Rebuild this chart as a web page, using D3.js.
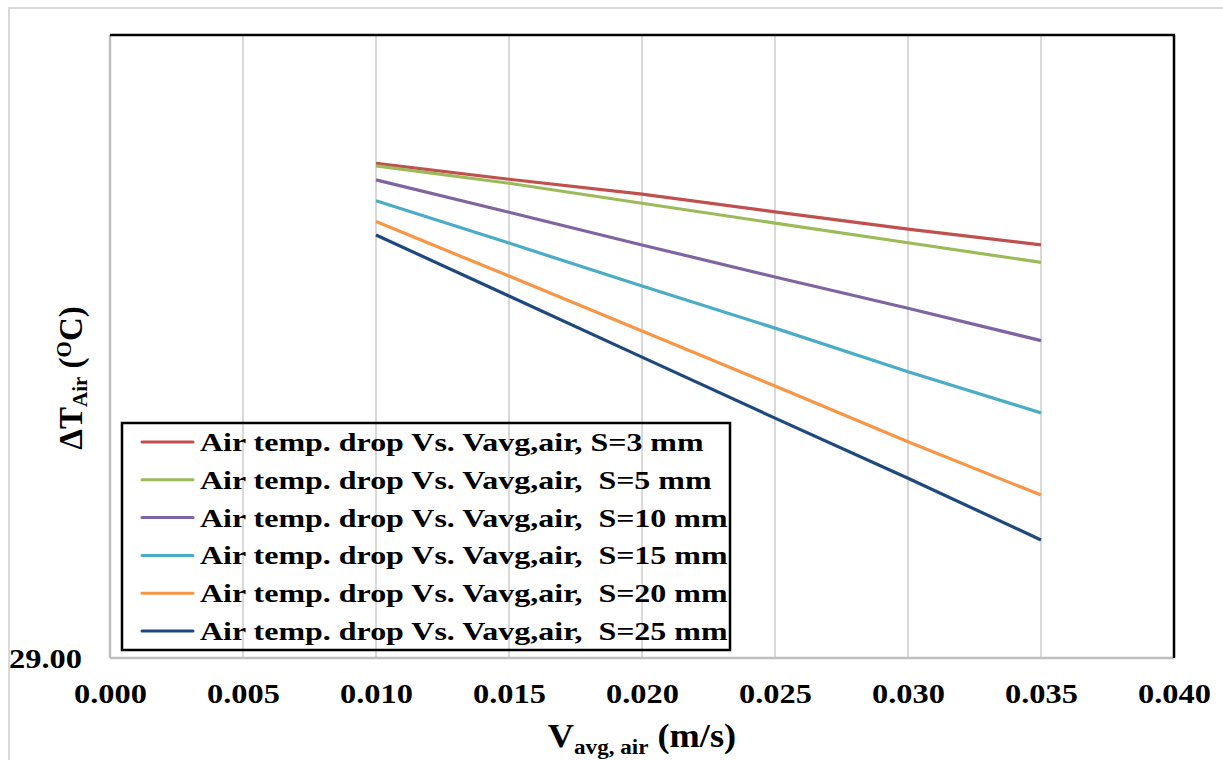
<!DOCTYPE html>
<html>
<head>
<meta charset="utf-8">
<script src="https://cdn.jsdelivr.net/npm/d3@7"></script>
<style>
  body { margin: 0; background: #fff; }
  text { font-family: "Liberation Serif", "Times New Roman", serif; font-weight: bold; fill: #000; }
</style>
</head>
<body>
<div class="canvas"></div>
<script>
// data
const velocity = [0.010, 0.015, 0.020, 0.025, 0.030, 0.035];
const s3 = [30.588, 30.537, 30.489, 30.432, 30.377, 30.326];
const s5 = [30.580, 30.524, 30.460, 30.396, 30.333, 30.270];
const s10 = [30.535, 30.431, 30.326, 30.223, 30.123, 30.019];
const s15 = [30.468, 30.332, 30.194, 30.059, 29.919, 29.787];
const s20 = [30.401, 30.226, 30.050, 29.873, 29.694, 29.523];
const s25 = [30.358, 30.162, 29.966, 29.770, 29.577, 29.379];
const seriesNames = [
  "Air temp. drop Vs. Vavg,air, S=3 mm",
  "Air temp. drop Vs. Vavg,air,  S=5 mm",
  "Air temp. drop Vs. Vavg,air,  S=10 mm",
  "Air temp. drop Vs. Vavg,air,  S=15 mm",
  "Air temp. drop Vs. Vavg,air,  S=20 mm",
  "Air temp. drop Vs. Vavg,air,  S=25 mm"
];
const seriesColors = ["#c0504d", "#9bbb59", "#8064a2", "#4bacc6", "#f79646", "#1f497d"];
const xTicks = [0, 0.005, 0.010, 0.015, 0.020, 0.025, 0.030, 0.035, 0.040];
const yTicks = [29.00];

const allSeries = [s3, s5, s10, s15, s20, s25];

const width = 1223, height = 760;
const plot = { left: 110, right: 1174, top: 35, bottom: 658 };
const stretch = 1.2; // the picture's text is wider than plain serif

const svg = d3.select(".canvas")
  .append("svg")
  .attr("width", width)
  .attr("height", height);

// outer chart frame
svg.append("rect")
  .attr("x", 9).attr("y", 8)
  .attr("width", width).attr("height", height)
  .attr("fill", "none")
  .attr("stroke", "#d9d9d9")
  .attr("stroke-width", 2);

const x = d3.scaleLinear().domain([0, 0.04]).range([plot.left, plot.right]);
const y = d3.scaleLinear().domain([29, 31]).range([plot.bottom, plot.top]);

// vertical gridlines
svg.append("g")
  .selectAll("line")
  .data(xTicks.slice(1, -1))
  .enter()
  .append("line")
  .attr("x1", d => x(d)).attr("x2", d => x(d))
  .attr("y1", plot.top).attr("y2", plot.bottom)
  .attr("stroke", "#d9d9d9")
  .attr("stroke-width", 2);

// plot border: grey axes left/bottom, black top/right
svg.append("line")
  .attr("x1", plot.left).attr("x2", plot.left)
  .attr("y1", plot.top).attr("y2", plot.bottom)
  .attr("stroke", "#bfbfbf").attr("stroke-width", 2.5);
svg.append("line")
  .attr("x1", plot.left).attr("x2", plot.right)
  .attr("y1", plot.bottom).attr("y2", plot.bottom)
  .attr("stroke", "#bfbfbf").attr("stroke-width", 2.5);
svg.append("line")
  .attr("x1", plot.left).attr("x2", plot.right + 1)
  .attr("y1", plot.top).attr("y2", plot.top)
  .attr("stroke", "#000").attr("stroke-width", 2.5);
svg.append("line")
  .attr("x1", plot.right).attr("x2", plot.right)
  .attr("y1", plot.top).attr("y2", plot.bottom)
  .attr("stroke", "#000").attr("stroke-width", 2.5);

// x axis
const xAxis = svg.append("g")
  .attr("transform", `translate(0, ${plot.bottom})`)
  .call(d3.axisBottom(x).tickValues(xTicks).tickSize(0).tickFormat(d3.format(".3f")));
xAxis.select(".domain").remove();
xAxis.selectAll("text")
  .attr("y", 0).attr("dy", null)
  .attr("transform", `translate(0, 45) scale(${stretch}, 1)`)
  .style("font-size", "27px")
  .style("font-family", "Liberation Serif, serif")
  .style("font-weight", "bold");

// y axis (only the bottom label is shown)
const yAxis = svg.append("g")
  .attr("transform", `translate(${plot.left}, 0)`)
  .call(d3.axisLeft(y).tickValues(yTicks).tickSize(0).tickFormat(d3.format(".2f")));
yAxis.select(".domain").remove();
yAxis.selectAll("text")
  .attr("x", 0).attr("dy", "0.35em")
  .attr("transform", `translate(-28, 0) scale(${stretch}, 1)`)
  .style("font-size", "27px")
  .style("font-family", "Liberation Serif, serif")
  .style("font-weight", "bold");

// series lines
const line = d3.line()
  .x((d, i) => x(velocity[i]))
  .y(d => y(d));

svg.append("g")
  .selectAll("path")
  .data(allSeries)
  .enter()
  .append("path")
  .attr("d", line)
  .attr("fill", "none")
  .attr("stroke", (d, i) => seriesColors[i])
  .attr("stroke-width", 3.2);

// legend
const legendBox = { x: 122, y: 423, w: 608, h: 227 };
const legendGroup = svg.append("g");
legendGroup.append("rect")
  .attr("x", legendBox.x).attr("y", legendBox.y)
  .attr("width", legendBox.w).attr("height", legendBox.h)
  .attr("fill", "none")
  .attr("stroke", "#000")
  .attr("stroke-width", 2.5);

const rowY = d3.scaleLinear().domain([0, 5]).range([442, 631]);

const rows = legendGroup.selectAll("g.row")
  .data(seriesNames)
  .enter()
  .append("g")
  .attr("class", "row")
  .attr("transform", (d, i) => `translate(0, ${rowY(i)})`);

rows.append("line")
  .attr("x1", 142).attr("x2", 193)
  .attr("y1", 0).attr("y2", 0)
  .attr("stroke", (d, i) => seriesColors[i])
  .attr("stroke-width", 3)
  .attr("stroke-linecap", "round");

rows.append("text")
  .attr("transform", `translate(200, 9) scale(1.23, 1)`)
  .attr("xml:space", "preserve")
  .style("white-space", "pre")
  .style("font-size", "26px")
  .text(d => d);

// x axis title
const xTitle = svg.append("text")
  .attr("transform", `translate(642, 747) scale(1.1, 1)`)
  .attr("text-anchor", "middle");
xTitle.append("tspan").style("font-size", "33px").text("V");
xTitle.append("tspan").style("font-size", "21px").attr("dy", 7).text("avg, air");
xTitle.append("tspan").style("font-size", "33px").attr("dy", -7).attr("xml:space", "preserve").style("white-space", "pre").text(" (m/s)");

// y axis title
const yTitle = svg.append("text")
  .attr("transform", `translate(82, 378) rotate(-90)`)
  .attr("text-anchor", "middle");
yTitle.append("tspan").style("font-size", "33px").text("\u0394T");
yTitle.append("tspan").style("font-size", "21px").attr("dy", 5).text("Air");
yTitle.append("tspan").style("font-size", "33px").attr("dy", -5).attr("xml:space", "preserve").style("white-space", "pre").text(" (");
yTitle.append("tspan").style("font-size", "21px").attr("dy", -11).text("O");
yTitle.append("tspan").style("font-size", "33px").attr("dy", 11).text("C)");
</script>
</body>
</html>
